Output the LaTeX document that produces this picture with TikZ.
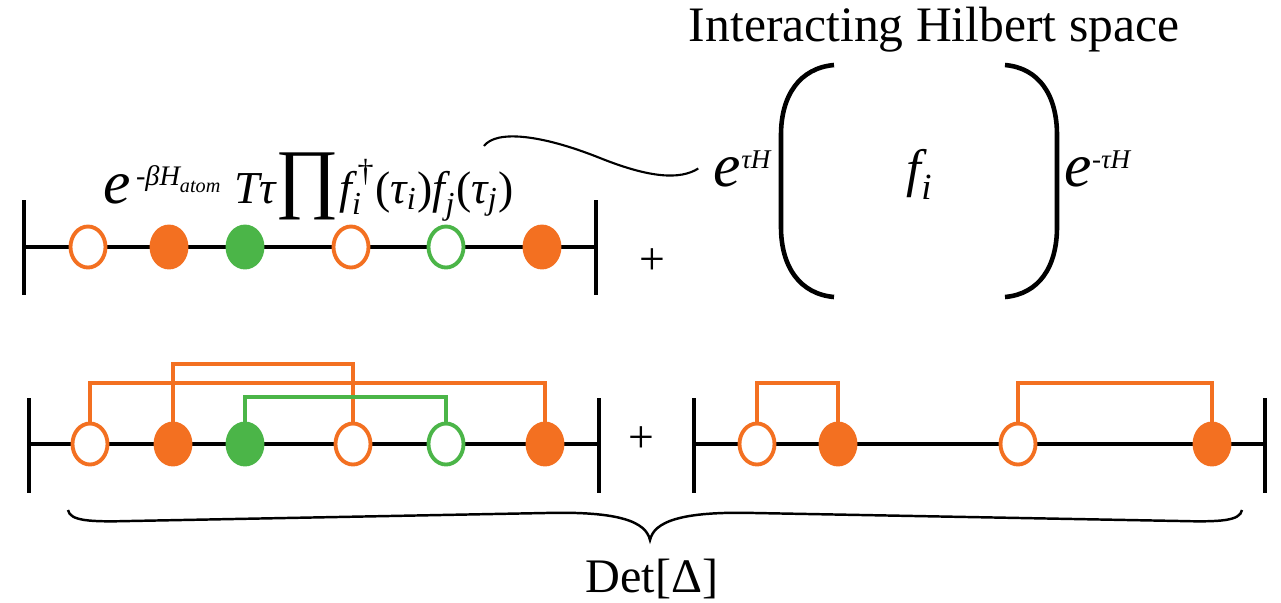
\documentclass[tikz,border=0pt]{standalone}
\usepackage{fontspec}
\setmainfont{LiberationSerif}[Extension=.ttf,UprightFont=*-Regular,ItalicFont=*-Italic,BoldFont=*-Bold,BoldItalicFont=*-BoldItalic]
\usepackage{amsmath}
\usetikzlibrary{shapes,positioning,calc}
\definecolor{fermorange}{RGB}{243,112,33}
\definecolor{fermgreen}{RGB}{75,181,72}
\newcommand{\ti}[1]{\text{\itshape #1}}
\newcommand{\bige}{\text{\fontsize{17.5}{18}\selectfont\itshape e}}

\begin{document}
\begin{tikzpicture}[x=0.01cm,y=-0.01cm,
	cr/.style={ellipse,minimum width=0.35cm,minimum height=0.41cm,inner sep=0pt,line width=1.1pt,draw=fermorange,fill=white},
	an/.style={cr,fill=fermorange},
	gcr/.style={cr,draw=fermgreen},
	gan/.style={cr,draw=fermgreen,fill=fermgreen},
	axis/.style={line width=1.3pt},
	bar/.style={line width=1pt},
	link/.style={line width=1pt,draw=fermorange},
	glink/.style={link,draw=fermgreen}]
	\useasboundingbox (0,0) rectangle (1281,602);

	% top row: atomic trace
	\coordinate (tl) at (24,247); \coordinate (tr) at (596,247);
	\draw[bar] (tl) ++(0,-47) -- ++(0,95);
	\draw[bar] (tr) ++(0,-47) -- ++(0,95);
	\draw[axis] (tl) -- (tr);
	\foreach \x/\s [count=\i] in {88/cr,169/an,245/gan,351/cr,446/gcr,542/an}
		\node[\s] (t\i) at (\x,247) {};
	\node[anchor=base west,inner sep=0pt] (expr) at (103,203) {\fontsize{11.5}{13}\selectfont
		$\bige^{\,\text{-}\ti{βH}_{\ti{atom}}}$\ \fontsize{13}{14}\selectfont
		$\ti{Tτ}\text{\fontsize{22}{22}\selectfont ∏}\ti{f}^{\,\text{†}}_{\ti{i}}\text{(}\ti{τ}_{\ti{i}}\text{)}\ti{f}_{\ti{j}}\text{(}\ti{τ}_{\ti{j}}\text{)}$};
	\node at (652,262) {\fontsize{13}{14}\selectfont +};

	% interacting part
	\node (title) at (934,30) {\fontsize{14.1}{16}\selectfont Interacting Hilbert space};
	\node[anchor=base east,inner sep=0pt] (etau) at (773,186) {\fontsize{11}{13}\selectfont $\bige^{\ti{τH}}$};
	\node[anchor=base west,inner sep=0pt] (emtau) at (1064,186) {\fontsize{11}{13}\selectfont $\bige^{\text{-}\ti{τH}}$};
	\node[anchor=base] (fi) at (920,186) {\fontsize{15}{18}\selectfont $\ti{f}_{\ti{i}}$};
	\draw[line width=1.3pt] (834,65) .. controls (800,68) and (781,95) .. (781,135) -- (781,227)
		.. controls (781,267) and (800,294) .. (834,297);
	\draw[line width=1.3pt] (1005,65) .. controls (1039,68) and (1057,95) .. (1057,135) -- (1057,227)
		.. controls (1057,267) and (1039,294) .. (1005,297);
	\coordinate (cs) at (484,146);
	\draw[line width=0.6pt] (cs) .. controls (496,130) and (540,134) .. (600,158)
		.. controls (650,178) and (680,180) .. ([xshift=-0.15cm]etau.west);

	% bottom left: all pairs linked
	\coordinate (bl) at (29,444); \coordinate (br) at (599,444);
	\coordinate (lvA) at (0,383); \coordinate (lvB) at (0,364); \coordinate (lvC) at (0,397);
	\draw[bar] (bl) ++(0,-46) -- ++(0,95);
	\draw[bar] (br) ++(0,-46) -- ++(0,95);
	\draw[axis] (bl) -- (br);
	\foreach \x/\s [count=\i] in {90/cr,173/an,245/gan,353/cr,446/gcr,545/an}
		\node[\s] (b\i) at (\x,444) {};
	\draw[link] (b1.north) -- (b1.north |- lvA) -| (b6.north);
	\draw[link] (b2.north) -- (b2.north |- lvB) -| (b4.north);
	\draw[glink] (b3.north) -- (b3.north |- lvC) -| (b5.north);
	\node at (641,440) {\fontsize{13}{14}\selectfont +};

	% bottom right: two separate pairs
	\coordinate (cl) at (694,444); \coordinate (cr) at (1265,444);
	\draw[bar] (cl) ++(0,-46) -- ++(0,95);
	\draw[bar] (cr) ++(0,-46) -- ++(0,95);
	\draw[axis] (cl) -- (cr);
	\foreach \x/\s [count=\i] in {757/cr,838/an,1018/cr,1212/an}
		\node[\s] (c\i) at (\x,444) {};
	\draw[link] (c1.north) -- (c1.north |- lvA) -| (c2.north);
	\draw[link] (c3.north) -- (c3.north |- lvA) -| (c4.north);

	% brace
	\coordinate (brl) at (68,510); \coordinate (brr) at (1242,510); \coordinate (tip) at (650,540);
	\draw[line width=0.7pt] (brl) .. controls (70,521) and (90,522) .. (130,521) -- (545,513)
		.. controls (620,511) and (646,522) .. (tip)
		.. controls (654,522) and (680,511) .. (755,513) -- (1180,521)
		.. controls (1220,522) and (1240,521) .. (brr);
	\node[anchor=base] (det) at (652,592) {\fontsize{13.7}{16}\selectfont Det[Δ]};
\end{tikzpicture}
\end{document}
